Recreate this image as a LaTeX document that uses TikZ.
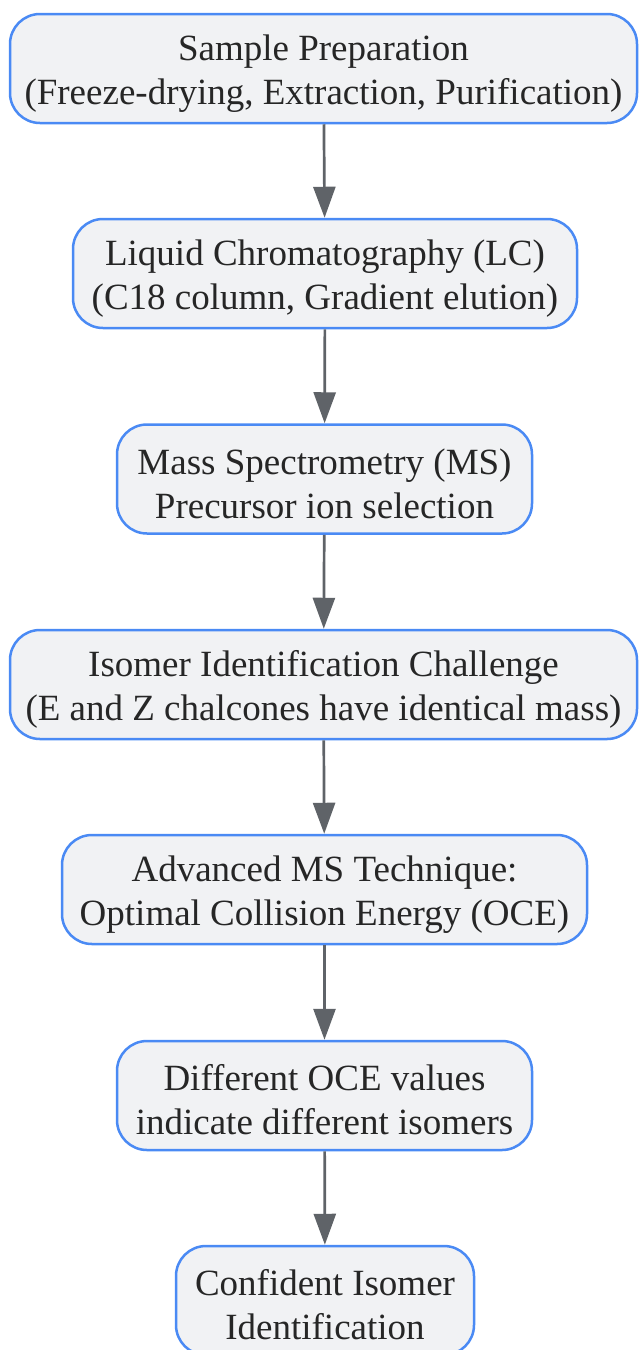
\documentclass[tikz,border=0pt]{standalone}
\usepackage{fontspec}
\setmainfont{Liberation Serif}
\usetikzlibrary{arrows.meta}
\definecolor{boxfill}{HTML}{F1F2F4}
\definecolor{boxline}{HTML}{4A8AF4}
\definecolor{arrowc}{HTML}{5F6368}
\newcommand\toppad{\rule{0pt}{35pt}}
\tikzset{
  stepbox/.style={draw=boxline, line width=2.5pt, fill=boxfill, rounded corners=30pt,
    minimum height=109pt, align=center, inner sep=0pt, text=black!85,
    font=\fontsize{37}{44}\selectfont},
  flow/.style={draw=arrowc, line width=2.7pt, -{Triangle[length=31pt,width=22pt]}}
}
\begin{document}
\begin{tikzpicture}
\useasboundingbox (0pt,0pt) rectangle (639pt,-1350pt);
\node[stepbox, minimum width=627pt] (n1) at (323.5pt,-68.5pt) {\toppad Sample Preparation\\(Freeze-drying, Extraction, Purification)};
\node[stepbox, minimum width=504pt] (n2) at (325pt,-273.5pt) {\toppad Liquid Chromatography (LC)\\(C18 column, Gradient elution)};
\node[stepbox, minimum width=415pt] (n3) at (324.5pt,-479pt) {\toppad Mass Spectrometry (MS)\\Precursor ion selection};
\node[stepbox, minimum width=627pt] (n4) at (323.5pt,-684.5pt) {\toppad Isomer Identification Challenge\\(E and Z chalcones have identical mass)};
\node[stepbox, minimum width=525pt] (n5) at (324.5pt,-889.5pt) {\toppad Advanced MS Technique:\\Optimal Collision Energy (OCE)};
\node[stepbox, minimum width=415pt] (n6) at (324.5pt,-1095.5pt) {\toppad Different OCE values\\indicate different isomers};
\node[stepbox, minimum width=298pt] (n7) at (325pt,-1300.5pt) {\toppad Confident Isomer\\Identification};
\draw[flow] (n1) -- (n2);
\draw[flow] (n2) -- (n3);
\draw[flow] (n3) -- (n4);
\draw[flow] (n4) -- (n5);
\draw[flow] (n5) -- (n6);
\draw[flow] (n6) -- (n7);
\end{tikzpicture}
\end{document}
